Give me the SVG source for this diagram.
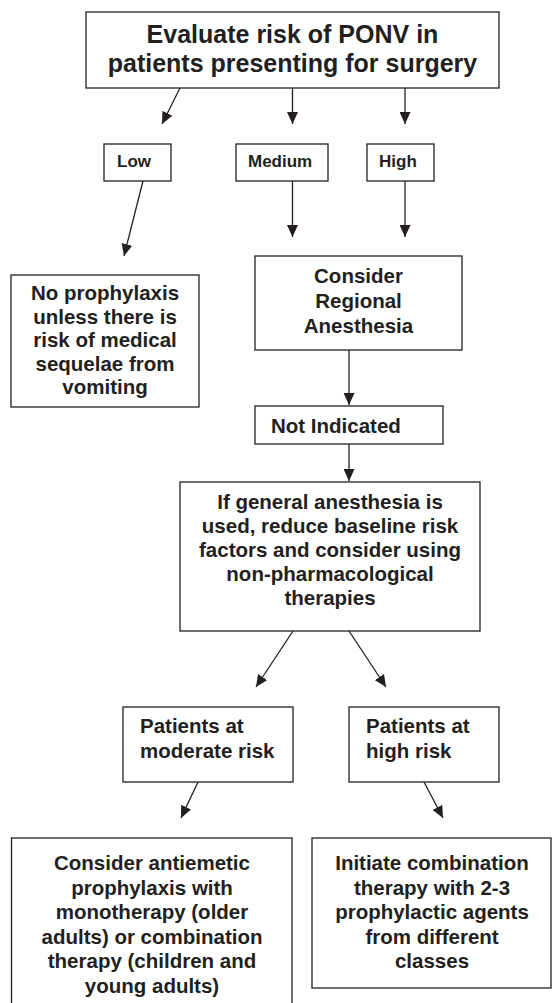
<svg xmlns="http://www.w3.org/2000/svg" width="552" height="1003" viewBox="0 0 552 1003">
  <style>
    .box { fill: #ffffff; stroke: #231f20; stroke-width: 1.3; }
    .edge { stroke: #231f20; stroke-width: 1.3; fill: none; marker-end: url(#arrow); }
    text { font-family: "Liberation Sans", Arial, sans-serif; font-weight: bold; fill: #231f20; }
    .title { font-size: 25px; text-anchor: middle; }
    .small { font-size: 17px; }
    .body { font-size: 20.5px; }
    .mid { text-anchor: middle; }
  </style>
  <defs>
    <marker id="arrow" markerUnits="userSpaceOnUse" markerWidth="12" markerHeight="11" refX="12" refY="5.5" orient="auto">
      <path d="M0,0 L12,5.5 L0,11 Z" fill="#231f20"/>
    </marker>
  </defs>
  <rect width="552" height="1003" fill="#ffffff"/>

  <g id="connectors">
    <line class="edge" x1="180" y1="88" x2="162" y2="124"/>
    <line class="edge" x1="292.5" y1="88" x2="292.5" y2="124"/>
    <line class="edge" x1="405" y1="88" x2="405" y2="124"/>
    <line class="edge" x1="143" y1="181" x2="124" y2="256"/>
    <line class="edge" x1="292.5" y1="181" x2="292.5" y2="237"/>
    <line class="edge" x1="405" y1="181" x2="405" y2="237"/>
    <line class="edge" x1="349" y1="350" x2="349" y2="405"/>
    <line class="edge" x1="349" y1="444" x2="349" y2="481"/>
    <line class="edge" x1="293" y1="631" x2="256" y2="687"/>
    <line class="edge" x1="349" y1="631" x2="386" y2="687"/>
    <line class="edge" x1="198" y1="782" x2="181" y2="818"/>
    <line class="edge" x1="424" y1="782" x2="443" y2="818"/>
  </g>

  <g id="evaluate">
    <rect class="box" x="86" y="12" width="413" height="76"/>
    <text class="title" x="292.5" y="42.5">Evaluate risk of PONV in</text>
    <text class="title" x="292.5" y="71.5">patients presenting for surgery</text>
  </g>

  <g id="low">
    <rect class="box" x="104" y="144" width="67" height="37"/>
    <text class="small" x="117" y="167">Low</text>
  </g>

  <g id="medium">
    <rect class="box" x="236" y="144" width="92" height="37"/>
    <text class="small" x="248" y="167">Medium</text>
  </g>

  <g id="high">
    <rect class="box" x="367" y="144" width="67" height="37"/>
    <text class="small" x="379" y="167">High</text>
  </g>

  <g id="no-prophylaxis">
    <rect class="box" x="11" y="275" width="188" height="132"/>
    <text class="body mid" x="105" y="300">No prophylaxis</text>
    <text class="body mid" x="105" y="323.5">unless there is</text>
    <text class="body mid" x="105" y="347">risk of medical</text>
    <text class="body mid" x="105" y="370.5">sequelae from</text>
    <text class="body mid" x="105" y="394">vomiting</text>
  </g>

  <g id="regional">
    <rect class="box" x="255" y="256" width="207" height="94"/>
    <text class="body mid" x="358.5" y="283">Consider</text>
    <text class="body mid" x="358.5" y="308">Regional</text>
    <text class="body mid" x="358.5" y="333">Anesthesia</text>
  </g>

  <g id="not-indicated">
    <rect class="box" x="255" y="406" width="188" height="38"/>
    <text class="body" x="271" y="433">Not Indicated</text>
  </g>

  <g id="general">
    <rect class="box" x="180" y="482" width="300" height="149"/>
    <text class="body mid" x="330" y="509">If general anesthesia is</text>
    <text class="body mid" x="330" y="533">used, reduce baseline risk</text>
    <text class="body mid" x="330" y="557">factors and consider using</text>
    <text class="body mid" x="330" y="581">non-pharmacological</text>
    <text class="body mid" x="330" y="604.5">therapies</text>
  </g>

  <g id="moderate-risk">
    <rect class="box" x="123" y="707" width="170" height="75"/>
    <text class="body" x="140" y="733">Patients at</text>
    <text class="body" x="140" y="758">moderate risk</text>
  </g>

  <g id="high-risk">
    <rect class="box" x="349" y="707" width="150" height="75"/>
    <text class="body" x="366" y="733">Patients at</text>
    <text class="body" x="366" y="758">high risk</text>
  </g>

  <g id="monotherapy">
    <rect class="box" x="11.5" y="838" width="280.5" height="180"/>
    <text class="body mid" x="152" y="870">Consider antiemetic</text>
    <text class="body mid" x="152" y="894.5">prophylaxis with</text>
    <text class="body mid" x="152" y="919">monotherapy (older</text>
    <text class="body mid" x="152" y="943.5">adults) or combination</text>
    <text class="body mid" x="152" y="968">therapy (children and</text>
    <text class="body mid" x="152" y="992.5">young adults)</text>
  </g>

  <g id="combination">
    <rect class="box" x="312" y="838" width="239" height="150"/>
    <text class="body mid" x="432" y="870">Initiate combination</text>
    <text class="body mid" x="432" y="894.5">therapy with 2-3</text>
    <text class="body mid" x="432" y="919">prophylactic agents</text>
    <text class="body mid" x="432" y="943.5">from different</text>
    <text class="body mid" x="432" y="968">classes</text>
  </g>
</svg>
